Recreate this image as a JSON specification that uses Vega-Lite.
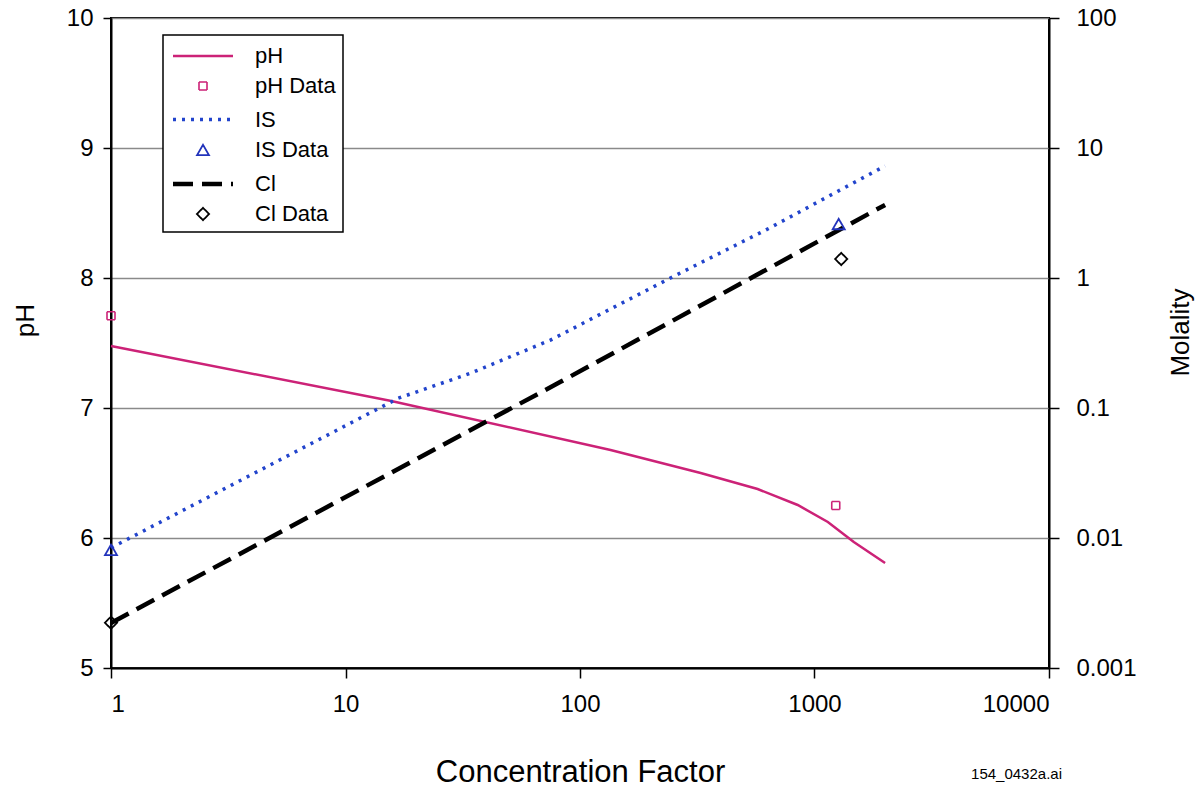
{
  "$schema": "https://vega.github.io/schema/vega-lite/v6.json",
  "width": 938,
  "height": 650,
  "autosize": "none",
  "padding": {"left": 111, "top": 18, "right": 151, "bottom": 126},
  "background": "white",
  "title": {"text": "154_0432a.ai", "orient": "bottom", "anchor": "end", "frame": "group", "fontSize": 15, "fontWeight": "normal", "font": "Liberation Sans", "color": "#000", "offset": -20, "dx": 13},
  "config": {
    "font": "Liberation Sans",
    "view": {"stroke": "#000", "strokeWidth": 2},
    "axis": {"labelFont": "Liberation Sans", "titleFont": "Liberation Sans", "labelColor": "#000", "titleColor": "#000", "titleFontWeight": "normal", "domainColor": "#000", "tickColor": "#000", "domainWidth": 2, "tickWidth": 1.5, "labelFontSize": 24, "titleFontSize": 26},
    "legend": {"orient": "none", "legendX": 52, "legendY": 17, "labelFont": "Liberation Sans", "labelFontSize": 22, "labelColor": "#000", "strokeColor": "#000", "strokeWidth": 1.5, "fillColor": "#fff", "padding": 7, "symbolOffset": 18, "labelOffset": 37, "rowPadding": 8}
  },
  "datasets": {
    "phLine": [
      {"series": "pH", "cf": 1, "value": 7.477},
      {"series": "pH", "cf": 15.5, "value": 7.056},
      {"series": "pH", "cf": 135, "value": 6.677},
      {"series": "pH", "cf": 327, "value": 6.5},
      {"series": "pH", "cf": 572, "value": 6.377},
      {"series": "pH", "cf": 848, "value": 6.254},
      {"series": "pH", "cf": 1140, "value": 6.123},
      {"series": "pH", "cf": 1471, "value": 5.969},
      {"series": "pH", "cf": 2000, "value": 5.808}
    ],
    "phData": [
      {"series": "pH Data", "cf": 1, "value": 7.71},
      {"series": "pH Data", "cf": 1232, "value": 6.25}
    ],
    "molLines": [
      {"series": "IS", "cf": 1, "value": 0.0084},
      {"series": "IS", "cf": 16.8, "value": 0.119},
      {"series": "IS", "cf": 34.1, "value": 0.185},
      {"series": "IS", "cf": 74.8, "value": 0.333},
      {"series": "IS", "cf": 243, "value": 1.0},
      {"series": "IS", "cf": 620, "value": 2.34},
      {"series": "IS", "cf": 2000, "value": 7.28},
      {"series": "Cl", "cf": 1, "value": 0.00222},
      {"series": "Cl", "cf": 82.6, "value": 0.159},
      {"series": "Cl", "cf": 2000, "value": 3.65}
    ],
    "molData": [
      {"series": "IS Data", "cf": 1, "value": 0.0081},
      {"series": "IS Data", "cf": 1268, "value": 2.6},
      {"series": "Cl Data", "cf": 1, "value": 0.00223},
      {"series": "Cl Data", "cf": 1300, "value": 1.4}
    ]
  },
  "layer": [
    {
      "encoding": {
        "x": {"field": "cf", "type": "quantitative", "scale": {"type": "log", "domain": [1, 10000], "nice": false}, "axis": {"title": "Concentration Factor", "values": [1, 10, 100, 1000, 10000], "format": "d", "grid": false, "tickSize": 10, "labelPadding": 14, "titlePadding": 41, "titleFontSize": 31}},
        "y": {"field": "value", "type": "quantitative", "scale": {"domain": [5, 10], "nice": false, "zero": false},
              "axis": {"orient": "left", "title": "pH", "values": [5, 6, 7, 8, 9, 10], "grid": true, "gridColor": "#8a8a8a", "gridWidth": 1.5, "tickSize": 8, "labelPadding": 10, "titlePadding": 28, "titleY": 302}}
      },
      "layer": [
        {
          "data": {"name": "phLine"},
          "mark": {"type": "line", "interpolate": "linear", "color": "#cc2277", "strokeWidth": 2.5}
        },
        {
          "data": {"name": "phData"},
          "mark": {"type": "point", "filled": false, "opacity": 1},
          "encoding": {
            "color": {"field": "series", "type": "nominal", "scale": {"domain": ["pH", "pH Data", "IS", "IS Data", "Cl", "Cl Data"], "range": ["#cc2277", "#cc2277", "#2244cc", "#2233bb", "#000000", "#000000"]}, "legend": {"title": null}},
            "strokeDash": {"field": "series", "type": "nominal", "scale": {"domain": ["pH", "pH Data", "IS", "IS Data", "Cl", "Cl Data"], "range": [[1, 0], [1, 0], [3, 6], [1, 0], [20, 9], [1, 0]]}, "legend": {"title": null}},
            "strokeWidth": {"field": "series", "type": "nominal", "scale": {"type": "ordinal", "domain": ["pH", "pH Data", "IS", "IS Data", "Cl", "Cl Data"], "range": [2.5, 1.6, 3.5, 1.8, 4.5, 1.8]}, "legend": {"title": null}},
            "shape": {"field": "series", "type": "nominal", "scale": {"domain": ["pH", "pH Data", "IS", "IS Data", "Cl", "Cl Data"], "range": ["M-2.4,0H2.4", "square", "M-2.4,0H2.4", "triangle-up", "M-2.4,0H2.4", "diamond"]}, "legend": {"title": null}},
            "size": {"field": "series", "type": "nominal", "scale": {"type": "ordinal", "domain": ["pH", "pH Data", "IS", "IS Data", "Cl", "Cl Data"], "range": [625, 64, 625, 144, 625, 150]}, "legend": {"title": null}}
          }
        }
      ]
    },
    {
      "encoding": {
        "x": {"field": "cf", "type": "quantitative", "scale": {"type": "log", "domain": [1, 10000], "nice": false}, "axis": {"title": "Concentration Factor", "values": [1, 10, 100, 1000, 10000], "format": "d", "grid": false, "tickSize": 10, "labelPadding": 14, "titlePadding": 41, "titleFontSize": 31}},
        "y": {"field": "value", "type": "quantitative", "scale": {"type": "log", "domain": [0.001, 100], "nice": false},
              "axis": {"orient": "right", "title": "Molality", "values": [0.001, 0.01, 0.1, 1, 10, 100], "format": "~g", "grid": false, "tickSize": 10, "labelPadding": 17, "titlePadding": 57, "titleAngle": 270, "titleY": 314}}
      },
      "layer": [
        {
          "data": {"name": "molLines"},
          "transform": [{"filter": {"field": "series", "equal": "IS"}}],
          "mark": {"type": "line", "interpolate": "linear", "color": "#2244cc", "strokeWidth": 3.5, "strokeDash": [3, 6]}
        },
        {
          "data": {"name": "molLines"},
          "transform": [{"filter": {"field": "series", "equal": "Cl"}}],
          "mark": {"type": "line", "interpolate": "linear", "color": "#000000", "strokeWidth": 4.5, "strokeDash": [20, 9]}
        },
        {
          "data": {"name": "molData"},
          "mark": {"type": "point", "filled": false, "opacity": 1},
          "encoding": {
            "color": {"field": "series", "type": "nominal", "scale": {"domain": ["pH", "pH Data", "IS", "IS Data", "Cl", "Cl Data"], "range": ["#cc2277", "#cc2277", "#2244cc", "#2233bb", "#000000", "#000000"]}, "legend": {"title": null}},
            "strokeDash": {"field": "series", "type": "nominal", "scale": {"domain": ["pH", "pH Data", "IS", "IS Data", "Cl", "Cl Data"], "range": [[1, 0], [1, 0], [3, 6], [1, 0], [20, 9], [1, 0]]}, "legend": {"title": null}},
            "strokeWidth": {"field": "series", "type": "nominal", "scale": {"type": "ordinal", "domain": ["pH", "pH Data", "IS", "IS Data", "Cl", "Cl Data"], "range": [2.5, 1.6, 3.5, 1.8, 4.5, 1.8]}, "legend": {"title": null}},
            "shape": {"field": "series", "type": "nominal", "scale": {"domain": ["pH", "pH Data", "IS", "IS Data", "Cl", "Cl Data"], "range": ["M-2.4,0H2.4", "square", "M-2.4,0H2.4", "triangle-up", "M-2.4,0H2.4", "diamond"]}, "legend": {"title": null}},
            "size": {"field": "series", "type": "nominal", "scale": {"type": "ordinal", "domain": ["pH", "pH Data", "IS", "IS Data", "Cl", "Cl Data"], "range": [625, 64, 625, 144, 625, 150]}, "legend": {"title": null}}
          }
        }
      ]
    }
  ],
  "resolve": {"scale": {"y": "independent"}, "axis": {"y": "independent"}}
}
